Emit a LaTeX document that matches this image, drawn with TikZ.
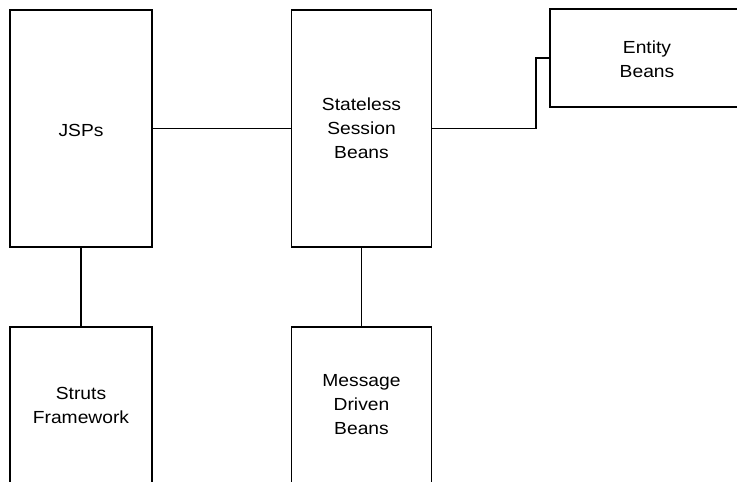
\documentclass[tikz,border=0pt]{standalone}
\usepackage{fontspec}
\setmainfont{Liberation Sans}[FakeStretch=1.1]
\begin{document}
\begin{tikzpicture}[x=1pt,y=-1pt,
  box/.style={draw=black,line width=1.3pt,fill=none,inner sep=0pt},
  lbl/.style={font=\fontsize{17.5}{24}\selectfont,align=center,inner sep=0pt},
  wire/.style={draw=black,line width=1.2pt}]
\useasboundingbox[fill=white] (0,0) rectangle (737,482);
\begin{scope}
\clip (0,0) rectangle (737,482);
% boxes
\node[box,minimum width=142pt,minimum height=237pt] (jsp) at (81,128.5) {};
\node[box,minimum width=140pt,minimum height=237pt] (ssb) at (361.5,128.5) {};
\node[box,minimum width=220pt,minimum height=98pt] (ent) at (660,58) {};
\node[box,minimum width=142pt,minimum height=170pt] (struts) at (81,412) {};
\node[box,minimum width=140pt,minimum height=170pt] (mdb) at (361.5,412) {};
% labels
\node[lbl] (tjsp) at (81,130) {JSPs};
\node[lbl] (tssb) at (361.5,128) {Stateless\\Session\\Beans};
\node[lbl] (tent) at (647,59) {Entity\\Beans};
\node[lbl] (tstruts) at (81,405) {Struts\\Framework};
\node[lbl] (tmdb) at (361.5,405) {Message\\Driven\\Beans};
% connectors
\draw[wire] (jsp.east) -- (ssb.west);
\draw[wire] (jsp.south) -- (struts.north);
\draw[wire] (ssb.south) -- (mdb.north);
\coordinate (k1) at (536,128.5);
\coordinate (k2) at (536,58);
\draw[wire] (ssb.east) -- (k1) -- (k2) -- (ent.west);
\end{scope}
\end{tikzpicture}
\end{document}
